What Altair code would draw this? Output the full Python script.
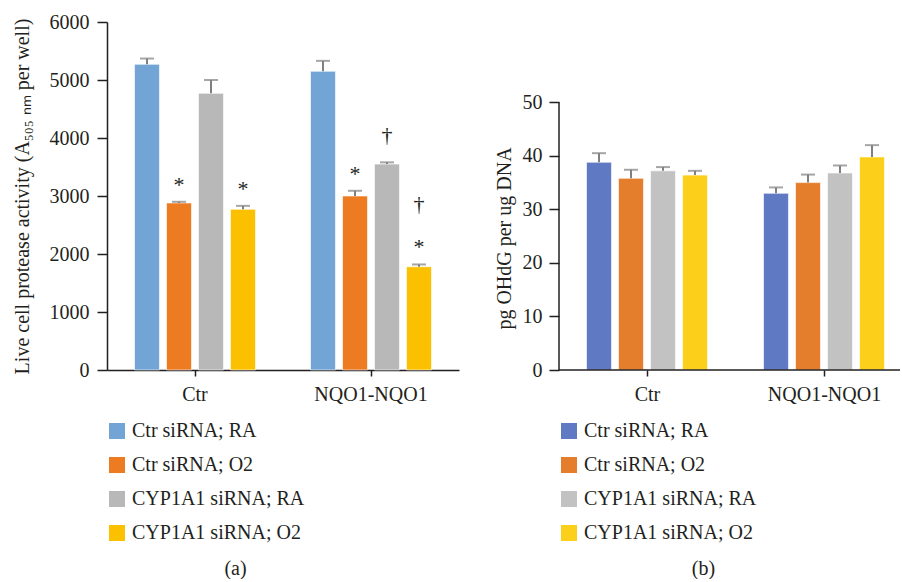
import altair as alt
import pandas as pd

groups = ["Ctr", "NQO1-NQO1"]
series = ["Ctr siRNA; RA", "Ctr siRNA; O2", "CYP1A1 siRNA; RA", "CYP1A1 siRNA; O2"]

# (a) live cell protease activity: means and upper error per bar
protease_ctr = [5270, 2880, 4770, 2770]
protease_nqo1 = [5150, 3000, 3550, 1780]
protease_err_ctr = [100, 20, 230, 60]
protease_err_nqo1 = [180, 90, 30, 40]

# (b) 8-OHdG per ug DNA
ohdg_ctr = [38.8, 35.8, 37.2, 36.4]
ohdg_nqo1 = [33.0, 35.0, 36.8, 39.8]
ohdg_err_ctr = [1.7, 1.6, 0.7, 0.8]
ohdg_err_nqo1 = [1.1, 1.5, 1.4, 2.2]

# significance symbols above bars in (a): group, series, symbol, stack level
sig_groups = ["Ctr", "Ctr", "NQO1-NQO1", "NQO1-NQO1", "NQO1-NQO1", "NQO1-NQO1"]
sig_series = ["Ctr siRNA; O2", "CYP1A1 siRNA; O2", "Ctr siRNA; O2",
              "CYP1A1 siRNA; RA", "CYP1A1 siRNA; O2", "CYP1A1 siRNA; O2"]
sig_symbols = ["*", "*", "*", "†", "*", "†"]
sig_levels = [0, 0, 0, 0, 0, 1]

colors_a = ["#72A5D6", "#ED7B22", "#B8B8B8", "#FBC000"]
colors_b = ["#5F7AC3", "#E47D2C", "#C1C2C1", "#FCCF1B"]

FONT = "Liberation Serif"
INK = "#231F20"
ERR = "#808080"


def build_table(ctr, nqo1, err_ctr, err_nqo1):
    rows = []
    for g, vals, errs in ((groups[0], ctr, err_ctr), (groups[1], nqo1, err_nqo1)):
        for s, v, e in zip(series, vals, errs):
            rows.append({"group": g, "series": s, "value": v, "upper": v + e})
    return pd.DataFrame(rows)


df_a = build_table(protease_ctr, protease_nqo1, protease_err_ctr, protease_err_nqo1)
df_b = build_table(ohdg_ctr, ohdg_nqo1, ohdg_err_ctr, ohdg_err_nqo1)

df_sig = pd.DataFrame({"group": sig_groups, "series": sig_series,
                       "symbol": sig_symbols, "level": sig_levels})
df_sig = df_sig.merge(df_a[["group", "series", "upper"]], on=["group", "series"])


def x_enc(scale, domain=True):
    axis_opts = dict(title=None, labelAngle=0, tickSize=6, labelPadding=8,
                     tickColor=INK, tickWidth=1.5, labelFontSize=20,
                     labelColor=INK, labelFont=FONT)
    if domain:
        axis_opts.update(domainColor=INK, domainWidth=1.5)
    else:
        axis_opts.update(domain=False)
    return alt.X("group:N", sort=groups, scale=scale, axis=alt.Axis(**axis_opts))


def xoff_enc():
    return alt.XOffset("series:N", sort=series,
                       scale=alt.Scale(paddingInner=0.22, paddingOuter=0.86))


def panel_layers(df, colors, x_scale, y_scale, y_axis, x_domain=True):
    base = alt.Chart(df)
    bars = base.mark_bar(stroke="#ffffff", strokeWidth=1, strokeOpacity=0.6).encode(
        x=x_enc(x_scale, x_domain),
        xOffset=xoff_enc(),
        y=alt.Y("value:Q", scale=y_scale, axis=y_axis),
        color=alt.Color("series:N", sort=series,
                        scale=alt.Scale(domain=series, range=colors),
                        legend=alt.Legend(orient="bottom", direction="vertical",
                                          title=None, symbolType="square",
                                          symbolSize=256, symbolStrokeWidth=0,
                                          symbolOpacity=1, labelFontSize=20,
                                          labelFont=FONT, labelColor=INK,
                                          rowPadding=14, offset=17,
                                          labelLimit=400, labelOffset=5)),
    )
    stems = base.mark_rule(color=ERR, strokeWidth=2).encode(
        x=alt.X("group:N", sort=groups), xOffset=xoff_enc(),
        y="value:Q", y2="upper:Q")
    caps = base.mark_tick(color=ERR, size=14, thickness=2, orient="horizontal").encode(
        x=alt.X("group:N", sort=groups), xOffset=xoff_enc(), y="upper:Q")
    return [bars, stems, caps]


def caption(text):
    return alt.TitleParams(text, orient="bottom", anchor="middle", frame="bounds",
                           fontSize=20, font=FONT, fontWeight="normal", color=INK,
                           offset=16)


y_axis_a = alt.Axis(values=[0, 1000, 2000, 3000, 4000, 5000, 6000], format="d",
                    grid=False,
                    title="Live cell protease activity (A\u2085\u2080\u2085 \u2099\u2098 per well)",
                    titleFontSize=20, titleFont=FONT, titleFontWeight="normal",
                    titleColor=INK, titlePadding=17,
                    tickSize=10, labelPadding=8, labelFontSize=20, labelFont=FONT,
                    labelColor=INK, domainColor=INK, tickColor=INK,
                    domainWidth=1.5, tickWidth=1.5)

layers_a = panel_layers(df_a, colors_a, alt.Scale(paddingInner=0, paddingOuter=0),
                        alt.Scale(domain=[0, 6000], nice=False), y_axis_a)

sig_base = alt.Chart(df_sig)
for sym, lvl, dy in (("*", 0, -10), ("†", 0, -20), ("†", 1, -53)):
    layers_a.append(
        sig_base.transform_filter(
            (alt.datum.symbol == sym) & (alt.datum.level == lvl)
        ).mark_text(fontSize=22, font=FONT, color=INK, dy=dy,
                    baseline="alphabetic").encode(
            x=alt.X("group:N", sort=groups), xOffset=xoff_enc(),
            y="upper:Q", text="symbol:N")
    )

chart_a = alt.layer(*layers_a).properties(width=352, height=348, title=caption("(a)"))

y_axis_b = alt.Axis(values=[0, 10, 20, 30, 40, 50], format="d", grid=False,
                    domain=False,
                    title="pg OHdG per ug DNA", titleFontSize=20, titleFont=FONT,
                    titleFontWeight="normal", titleColor=INK, titlePadding=8,
                    titleY=216,
                    tickSize=10, labelPadding=7, labelFontSize=20, labelFont=FONT,
                    labelColor=INK, tickColor=INK, tickWidth=1.5)

layers_b = panel_layers(df_b, colors_b,
                        alt.Scale(range=[0, 354], paddingInner=0, paddingOuter=0),
                        alt.Scale(domain=[0, 65], nice=False), y_axis_b,
                        x_domain=False)

# axis lines for (b): value axis stops at 50, category axis runs to the edge
y_line_b = alt.Chart(pd.DataFrame({"lo": [0], "hi": [50]})).mark_rule(
    color=INK, strokeWidth=1.5).encode(
    x=alt.value(0), y=alt.Y("lo:Q"), y2="hi:Q")
x_line_b = alt.Chart(pd.DataFrame({"lo": [0]})).mark_rule(
    color=INK, strokeWidth=1.5).encode(
    x=alt.value(0), x2=alt.value(343), y=alt.Y("lo:Q"))

chart_b = alt.layer(*layers_b, y_line_b, x_line_b).properties(
    width=343, height=348, title=caption("(b)"))

chart = alt.hconcat(chart_a, chart_b, spacing=35).resolve_scale(
    color="independent"
).properties(
    padding={"left": 12, "top": 12, "right": -13, "bottom": 0},
    background="white",
).configure(font=FONT).configure_view(strokeWidth=0, stroke="transparent")

chart.save("out.html", embed_options={"renderer": "svg", "actions": False})
